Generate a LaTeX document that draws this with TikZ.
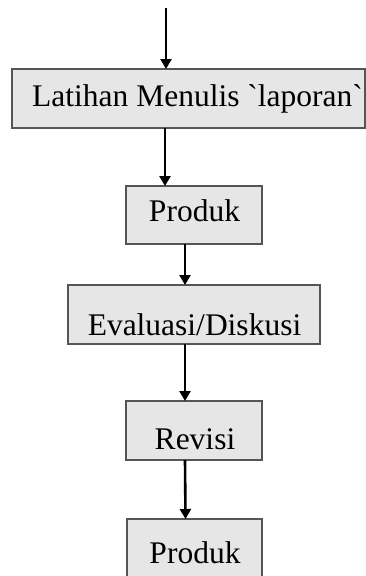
\documentclass[tikz,border=0pt]{standalone}
\usepackage{fontspec}
\newfontfamily\lib{Liberation Serif}
\usetikzlibrary{arrows.meta}
\definecolor{boxfill}{HTML}{E6E6E6}
\definecolor{boxline}{HTML}{555555}
\tikzset{
  box/.style={draw=boxline, fill=boxfill, line width=2pt, rectangle, inner sep=0pt, outer sep=0pt},
  txt/.style={anchor=base, inner sep=0pt, font=\lib\fontsize{31.5pt}{36pt}\selectfont},
  arr/.style={line width=2.6pt, -{Triangle[length=10pt,width=11pt]}, shorten >=0pt}
}
\begin{document}
\begin{tikzpicture}[x=1pt,y=1pt]
\useasboundingbox (0,0) rectangle (366,-576);
\node[box, minimum width=353pt, minimum height=59pt] (b1) at (188.5,-98.5) {};
\node[box, minimum width=136pt, minimum height=58pt] (b2) at (194,-215) {};
\node[box, minimum width=252pt, minimum height=59pt] (b3) at (194,-314.5) {};
\node[box, minimum width=136pt, minimum height=59pt] (b4) at (194,-430.5) {};
\node[box, minimum width=135pt, minimum height=60pt] (b5) at (194.5,-549) {};
\node[txt] (t1) at (197.5,-106) {Latihan Menulis `laporan`};
\node[txt] (t2) at (194.5,-221) {Produk};
\node[txt] (t3) at (194.5,-335) {Evaluasi/Diskusi};
\node[txt] (t4) at (195,-449) {Revisi};
\node[txt] (t5) at (195,-563) {Produk};
\coordinate (start) at (166,-8);
\draw[arr] (start) -- (start |- b1.north);
\draw[arr] ([xshift=-29pt]b2.north |- b1.south) -- ([xshift=-29pt]b2.north);
\draw[arr] ([xshift=-9pt]b2.south) -- ([xshift=-9pt]b3.north);
\draw[arr] ([xshift=-9pt]b3.south) -- ([xshift=-9pt]b4.north);
\draw[arr] ([xshift=-9pt]b4.south) -- ([xshift=-9pt]b5.north);
\end{tikzpicture}
\end{document}
